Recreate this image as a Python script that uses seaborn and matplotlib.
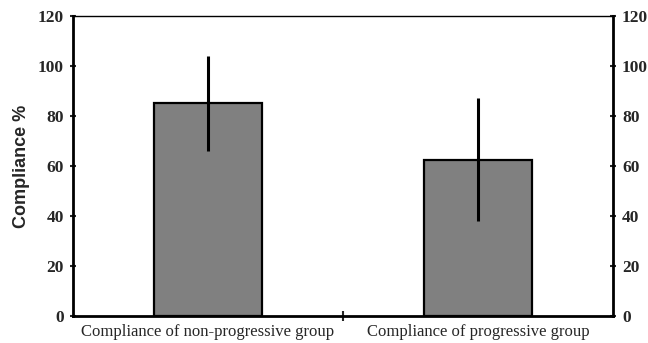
import matplotlib
matplotlib.use('Agg')
import matplotlib.pyplot as plt
import seaborn as sns
import pandas as pd

# dados
grupos = ['Compliance of non-progressive group', 'Compliance of progressive group']
medias = [85, 62.5]
desvios = [19, 24.5]
yticks = [0, 20, 40, 60, 80, 100, 120]

sns.set_style('white')

df = pd.DataFrame({'grupo': grupos, 'media': medias})

fig = plt.figure(figsize=(6.48, 3.43), dpi=100)
ax = fig.add_axes([0.1127, 0.0787, 0.8333, 0.8747])

sns.barplot(x='grupo', y='media', data=df, color='#808080', saturation=1,
            width=0.4, edgecolor='black', linewidth=1.6, errorbar=None, ax=ax)
ax.errorbar(range(len(grupos)), medias, yerr=desvios, fmt='none',
            ecolor='black', elinewidth=2.2, capsize=0, zorder=5)

ax.set_xlim(-0.5, 1.5)
ax.set_ylim(0, 120)
ax.set_yticks(yticks)
ax.set_yticklabels([str(t) for t in yticks], family='Liberation Serif',
                   fontweight='bold', fontsize=12.5)
# único tick no meio do eixo x; rótulos das categorias como texto sob as barras
ax.set_xticks([0.5])
ax.set_xticklabels([''])
for i, g in enumerate(grupos):
    ax.text(i, -3, g, ha='center', va='top', family='Liberation Serif',
            fontsize=12, transform=ax.transData)

ax.tick_params(axis='y', which='both', left=True, right=True, labelleft=True,
               labelright=True, direction='inout', length=5, width=1.5, pad=4)
ax.tick_params(axis='x', bottom=True, direction='inout', length=7, width=1.5)

ax.set_xlabel('')
ax.set_ylabel('Compliance %', family='Liberation Sans', fontweight='bold',
              fontsize=13, labelpad=6)

for lado in ['left', 'right', 'bottom']:
    ax.spines[lado].set_linewidth(2)
    ax.spines[lado].set_color('black')
ax.spines['top'].set_linewidth(1)
ax.spines['top'].set_color('black')

fig.savefig('out.png', dpi=100)
